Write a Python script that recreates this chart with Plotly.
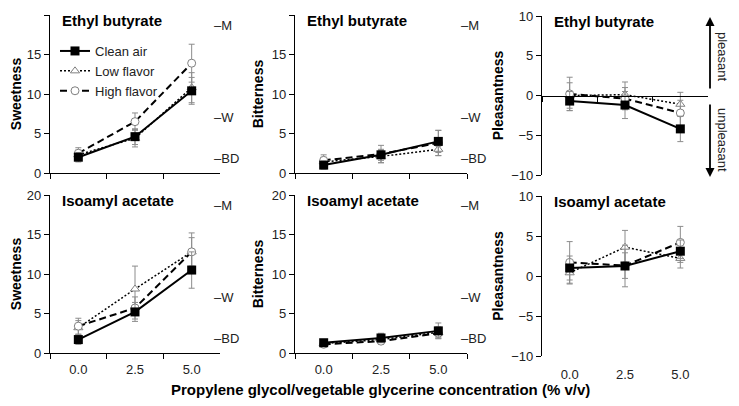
import plotly.graph_objects as go

doses = ["0.0", "2.5", "5.0"]
series_names = ["Clean air", "Low flavor", "High flavor"]

# ethyl butyrate
eb_sweet = [[2.0, 4.6, 10.4], [2.3, 4.4, 10.8], [2.5, 6.5, 13.9]]
eb_sweet_err = [[0.6, 1.0, 1.7], [0.6, 1.1, 1.9], [0.7, 1.1, 2.4]]
eb_bitter = [[1.0, 2.3, 4.0], [1.4, 2.1, 3.0], [1.6, 2.4, 3.8]]
eb_bitter_err = [[0.5, 0.7, 1.4], [0.6, 0.8, 0.8], [0.7, 1.1, 1.6]]
eb_pleas = [[-0.7, -1.2, -4.2], [0.0, 0.1, -1.1], [0.2, -0.4, -2.2]]
eb_pleas_err = [[1.2, 1.7, 1.6], [1.6, 1.6, 1.5], [2.1, 1.4, 1.6]]

# isoamyl acetate
ia_sweet = [[1.7, 5.2, 10.5], [3.2, 8.1, 12.8], [3.4, 5.7, 12.8]]
ia_sweet_err = [[0.6, 1.2, 2.3], [0.9, 2.9, 1.8], [1.0, 1.4, 2.4]]
ia_bitter = [[1.3, 1.9, 2.8], [1.2, 1.7, 2.6], [1.1, 1.5, 2.5]]
ia_bitter_err = [[0.4, 0.6, 1.0], [0.4, 0.5, 0.7], [0.3, 0.4, 0.6]]
ia_pleas = [[1.0, 1.25, 3.1], [0.4, 3.6, 2.2], [1.7, 1.3, 4.2]]
ia_pleas_err = [[1.5, 2.6, 1.4], [1.4, 2.1, 1.2], [2.6, 1.6, 2.0]]

intensity_labels = ["\u2013BD", "\u2013W", "\u2013M"]
intensity_vals = [1.8, 7.0, 18.7]

FONT = "Liberation Sans, Arial, sans-serif"
W, H = 739, 406
OFF = 8  # page body margin


def px(p):
    return (p - OFF) / W


def py(p):
    return (H - (p - OFF)) / H


panels = [
    (eb_sweet, eb_sweet_err, "Sweetness", "Ethyl butyrate"),
    (eb_bitter, eb_bitter_err, "Bitterness", "Ethyl butyrate"),
    (eb_pleas, eb_pleas_err, "Pleasantness", "Ethyl butyrate"),
    (ia_sweet, ia_sweet_err, "Sweetness", "Isoamyl acetate"),
    (ia_bitter, ia_bitter_err, "Bitterness", "Isoamyl acetate"),
    (ia_pleas, ia_pleas_err, "Pleasantness", "Isoamyl acetate"),
]

# pixel boxes of the plot areas (left, right, top, bottom)
boxes = [
    (50, 220, 15, 173), (295, 467, 15, 173), (542, 708, 16, 175),
    (50, 220, 195, 353), (295, 467, 195, 353), (542, 708, 196, 356),
]

styles = [
    dict(line=dict(color="black", width=2),
         marker=dict(symbol="square", size=9, color="black")),
    dict(line=dict(color="black", width=1.5, dash="2px,2px"),
         marker=dict(symbol="triangle-up", size=8, color="white",
                     line=dict(color="#808080", width=1))),
    dict(line=dict(color="black", width=2, dash="7px,4px"),
         marker=dict(symbol="circle", size=8, color="white",
                     line=dict(color="#808080", width=1))),
]

fig = go.Figure()
annotations = []

for i, (vals, errs, ytitle, title) in enumerate(panels):
    n = i + 1
    xa = "x" if n == 1 else f"x{n}"
    ya = "y" if n == 1 else f"y{n}"
    l, r, t, b = boxes[i]
    xdom = [px(l), px(r)]
    ydom = [py(b), py(t)]
    pleasant = ytitle == "Pleasantness"
    bottom = i >= 3

    for k in [1, 2, 0]:
        fig.add_trace(go.Scatter(
            x=doses, y=vals[k], mode="lines+markers", name=series_names[k],
            error_y=dict(type="data", array=errs[k], color="#8c8c8c",
                         thickness=1, width=3),
            showlegend=(i == 0), legendrank=k + 1,
            xaxis=xa, yaxis=ya, **styles[k]))

    xax = dict(domain=xdom, anchor=ya, type="category", range=[-0.5, 2.5],
               tickson="boundaries", ticks="outside", ticklen=5,
               tickwidth=1.3, tickcolor="black", showline=True,
               linecolor="black", linewidth=1.3, showgrid=False,
               zeroline=False, showticklabels=bottom, automargin=False,
               ticklabelstandoff=4,
               tickfont=dict(family=FONT, size=13, color="#222"))
    if pleasant:
        if bottom:
            # labels at the bottom, axis line drawn at zero by an overlay
            xax.update(showline=False, ticks="", ticklabelstandoff=9)
            fig.layout[f"xaxis{n + 1}"] = dict(
                overlaying=xa, anchor="free",
                position=(ydom[0] + ydom[1]) / 2, range=[-0.5, 2.5],
                tickvals=[-0.5, 0.5, 1.5, 2.5], showticklabels=False,
                ticks="outside", ticklen=5, tickwidth=1.3, tickcolor="black",
                showline=True, linecolor="black", linewidth=1.3,
                showgrid=False, zeroline=False, automargin=False)
        else:
            xax.update(anchor="free", position=(ydom[0] + ydom[1]) / 2)
    fig.layout["xaxis" if n == 1 else f"xaxis{n}"] = xax

    yrange = [-10, 10] if pleasant else [0, 20]
    fig.layout["yaxis" if n == 1 else f"yaxis{n}"] = dict(
        domain=ydom, anchor=xa, range=yrange, dtick=5, ticks="outside",
        ticklen=5, tickwidth=1.3, tickcolor="black", showline=True,
        linecolor="black", linewidth=1.3, showgrid=False, zeroline=False,
        automargin=False,
        tickfont=dict(family=FONT, size=13, color="#222"),
        title=dict(text=f"<b>{ytitle}</b>", standoff=4,
                   font=dict(family=FONT, size=14, color="black")))

    annotations.append(dict(
        text=f"<b>{title}</b>", xref=f"{xa} domain", yref=f"{ya} domain",
        x=0.06, y=1.03, xanchor="left", yanchor="top", showarrow=False,
        font=dict(family=FONT, size=15, color="black")))

    if not pleasant:
        for lab, v in zip(intensity_labels, intensity_vals):
            annotations.append(dict(
                text=lab, xref=f"{xa} domain", yref=ya, x=0.955, y=v,
                xanchor="left", yanchor="middle", showarrow=False,
                font=dict(family=FONT, size=13, color="#222")))

# pleasant / unpleasant arrows
annotations += [
    dict(x=px(710), y=py(17), xref="paper", yref="paper", ax=0, ay=73,
         showarrow=True, arrowhead=2, arrowsize=1, arrowwidth=1.8,
         arrowcolor="black", text=""),
    dict(x=px(710), y=py(177), xref="paper", yref="paper", ax=0, ay=-74,
         showarrow=True, arrowhead=2, arrowsize=1, arrowwidth=1.8,
         arrowcolor="black", text=""),
    dict(x=px(723), y=py(57), xref="paper", yref="paper",
         xanchor="center", yanchor="middle",
         text="pleasant", textangle=90, showarrow=False,
         font=dict(family=FONT, size=13, color="#222")),
    dict(x=px(723), y=py(140), xref="paper", yref="paper",
         xanchor="center", yanchor="middle",
         text="unpleasant", textangle=90, showarrow=False,
         font=dict(family=FONT, size=13, color="#222")),
    dict(x=px(380), y=py(389), xref="paper", yref="paper",
         xanchor="center", yanchor="middle",
         text="<b>Propylene glycol/vegetable glycerine concentration (% v/v)</b>",
         showarrow=False, font=dict(family=FONT, size=15, color="black")),
]

fig.update_layout(
    width=W, height=H, margin=dict(l=0, r=0, t=0, b=0, autoexpand=False),
    plot_bgcolor="white", paper_bgcolor="white",
    annotations=annotations,
    legend=dict(x=px(55), y=py(36), xanchor="left", yanchor="top",
                bgcolor="rgba(0,0,0,0)", itemwidth=30, tracegroupgap=0,
                font=dict(family=FONT, size=13, color="#222")),
)

fig.write_html("out.html")
